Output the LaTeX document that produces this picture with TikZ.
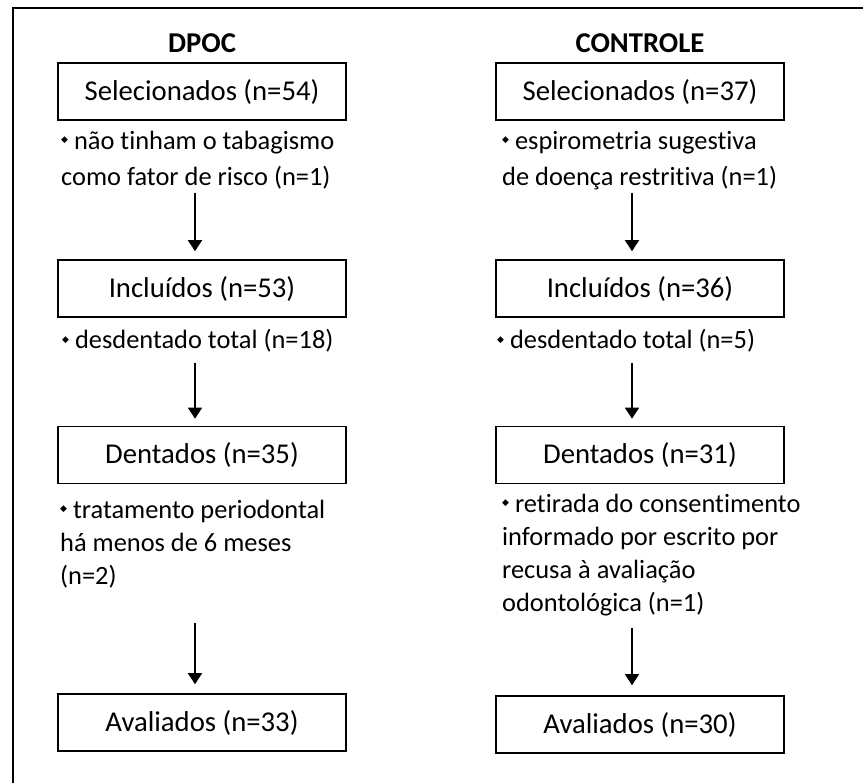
\documentclass[tikz,border=0pt]{standalone}
\usepackage{fontspec}
\setmainfont{Carlito}[Ligatures=NoCommon]
\newfontfamily\dejavu{DejaVu Sans}
\usetikzlibrary{arrows.meta}
\newcommand{\bul}{\raisebox{0.55ex}{\dejavu\fontsize{9}{9}\selectfont ◆}}
\begin{document}
\begin{tikzpicture}[x=1pt,y=-1pt,
 box/.style={draw, line width=1.6pt, minimum width=288pt, minimum height=57pt, inner sep=0pt, font=\fontsize{28.7}{34}\selectfont},
 note/.style={anchor=base west, inner sep=0pt, align=left, font=\fontsize{26.4}{33.3}\selectfont},
 ttl/.style={font=\fontsize{28.7}{34}\selectfont\bfseries},
 arr/.style={line width=1.6pt, -{Triangle[width=14pt,length=11pt]}}]
\useasboundingbox (0,0) rectangle (863,783);
\draw[line width=1.6pt] (863,8) -- (13,8) -- (13,783);
% titles
\node[ttl] (t1) at (202,43) {DPOC};
\node[ttl] (t2) at (640,43) {CONTROLE};
% boxes
\node[box] (s1) at (202,91.5) {Selecionados (n=54)};
\node[box] (s2) at (640,91.5) {Selecionados (n=37)};
\node[box] (i1) at (202,288.5) {Incluídos (n=53)};
\node[box] (i2) at (640,288.5) {Incluídos (n=36)};
\node[box] (d1) at (202,455) {Dentados (n=35)};
\node[box] (d2) at (640,455) {Dentados (n=31)};
\node[box] (v1) at (202,722.5) {Avaliados (n=33)};
\node[box] (v2) at (640,724.5) {Avaliados (n=30)};
% notes (anchor = baseline of the last line)
\node[note, font=\fontsize{26.4}{36.7}\selectfont] (n1) at (61,186) {\bul{} não tinham o tabagismo\\como fator de risco (n=1)};
\node[note, font=\fontsize{26.4}{36.7}\selectfont] (n2) at (502,186) {\bul{} espirometria sugestiva\\de doença restritiva (n=1)};
\node[note] (n3) at (62,349) {\bul{} desdentado total (n=18)};
\node[note] (n4) at (497,349) {\bul{} desdentado total (n=5)};
\node[note] (n5) at (60,585) {\bul{} tratamento periodontal\\há menos de 6 meses\\(n=2)};
\node[note] (n6) at (502,612) {\bul{} retirada do consentimento\\informado por escrito por\\recusa à avaliação\\odontológica (n=1)};
% arrows
\coordinate (a1) at (195,193);
\coordinate (a2) at (632,193);
\coordinate (a3) at (195,363);
\coordinate (a4) at (632,363);
\coordinate (a5) at (195,623);
\coordinate (a6) at (632,628);
\draw[arr, shorten >=8pt] (a1) -- (i1.north -| a1);
\draw[arr, shorten >=8pt] (a2) -- (i2.north -| a2);
\draw[arr, shorten >=7pt] (a3) -- (d1.north -| a3);
\draw[arr, shorten >=7pt] (a4) -- (d2.north -| a4);
\draw[arr, shorten >=9pt] (a5) -- (v1.north -| a5);
\draw[arr, shorten >=10pt] (a6) -- (v2.north -| a6);
\end{tikzpicture}
\end{document}
